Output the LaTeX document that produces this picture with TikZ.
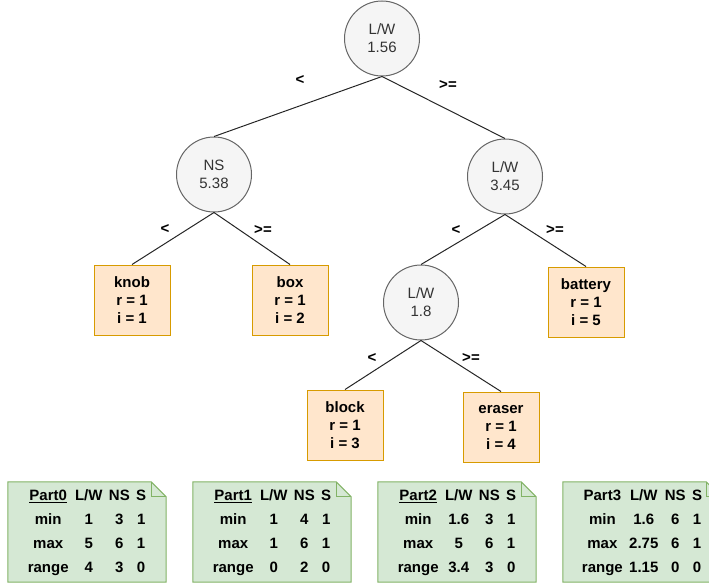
\documentclass[tikz,border=0pt]{standalone}
\usepackage{fontspec}
\setmainfont{Liberation Sans}
\definecolor{splitfill}{HTML}{F5F5F5}
\definecolor{splitline}{HTML}{666666}
\definecolor{splittext}{HTML}{333333}
\definecolor{leaffill}{HTML}{FFE6CC}
\definecolor{leafline}{HTML}{D79B00}
\definecolor{notefill}{HTML}{D5E8D4}
\definecolor{noteline}{HTML}{82B366}
\setlength{\tabcolsep}{3.2pt}
\renewcommand{\arraystretch}{1.5}
\tikzset{
  split/.style={circle, draw=splitline, fill=splitfill, line width=1pt,
    minimum size=75pt, inner sep=0pt, align=center, text=splittext,
    font=\fontsize{15}{18}\selectfont},
  leaf/.style={rectangle, draw=leafline, fill=leaffill, line width=1pt,
    minimum width=76pt, minimum height=70pt, inner sep=0pt, align=center,
    font=\fontsize{15}{18}\selectfont\bfseries},
  branch/.style={draw=black!85, line width=1pt},
  cond/.style={inner sep=0pt, font=\fontsize{15}{18}\selectfont\bfseries},
  noteframe/.style={minimum width=158pt, minimum height=100pt, inner sep=0pt},
  notetext/.style={inner sep=0pt, font=\fontsize{15}{16}\selectfont\bfseries},
  notepaper/.style={draw=noteline, fill=notefill, line width=1pt},
}
% folded-corner note drawn around a frame node
\newcommand{\foldnote}[1]{%
  \draw[notepaper] (#1.north west) -- ([xshift=-15pt]#1.north east)
    -- ([yshift=-15pt]#1.north east) -- (#1.south east) -- (#1.south west) -- cycle;
  \draw[notepaper, fill=none] ([xshift=-15pt]#1.north east)
    -- ([xshift=-15pt,yshift=-15pt]#1.north east) -- ([yshift=-15pt]#1.north east);}
\begin{document}
\begin{tikzpicture}[x=1pt, y=-1pt]
\useasboundingbox (0,0) rectangle (709,586);
\clip (0,0) rectangle (709,586);

% split nodes
\node[split] (root) at (382,38.5) {L/W\\1.56};
\node[split] (ns)   at (214,174.5) {NS\\5.38};
\node[split] (lwa)  at (505,176.5) {L/W\\3.45};
\node[split] (lwb)  at (421,302.5) {L/W\\1.8};

% leaves
\node[leaf] (knob)    at (132,300) {knob\\r = 1\\i = 1};
\node[leaf] (box)     at (290,300) {box\\r = 1\\i = 2};
\node[leaf] (battery) at (586,302) {battery\\r = 1\\i = 5};
\node[leaf] (block)   at (345,425) {block\\r = 1\\i = 3};
\node[leaf] (eraser)  at (501,427) {eraser\\r = 1\\i = 4};

% branches
\draw[branch] (root.south) -- (ns.north);
\draw[branch] (root.south) -- (lwa.north);
\draw[branch] (ns.south) -- (knob.north);
\draw[branch] (ns.south) -- (box.north);
\draw[branch] (lwa.south) -- (lwb.north);
\draw[branch] (lwa.south) -- (battery.north);
\draw[branch] (lwb.south) -- (block.north);
\draw[branch] (lwb.south) -- (eraser.north);

% branch conditions
\node[cond] (c1) at (300,80) {<};
\node[cond] (c2) at (448,85) {>=};
\node[cond] (c3) at (165,229) {<};
\node[cond] (c4) at (263,230) {>=};
\node[cond] (c5) at (456,230) {<};
\node[cond] (c6) at (555,230) {>=};
\node[cond] (c7) at (372,358) {<};
\node[cond] (c8) at (471,358) {>=};

% partition summaries
\node[noteframe] (p0) at (87,532) {};
\node[noteframe] (p1) at (272,532) {};
\node[noteframe] (p2) at (457,532) {};
\node[noteframe] (p3) at (642,532) {};
\foldnote{p0}\foldnote{p1}\foldnote{p2}\foldnote{p3}

\node[notetext] (t0) at (p0.center) {\begin{tabular}{@{}cccc@{}}
\underline{Part0} & L/W & NS & S\\
min & 1 & 3 & 1\\
max & 5 & 6 & 1\\
range & 4 & 3 & 0
\end{tabular}};
\node[notetext] (t1) at (p1.center) {\begin{tabular}{@{}cccc@{}}
\underline{Part1} & L/W & NS & S\\
min & 1 & 4 & 1\\
max & 1 & 6 & 1\\
range & 0 & 2 & 0
\end{tabular}};
\node[notetext] (t2) at (p2.center) {\begin{tabular}{@{}cccc@{}}
\underline{Part2} & L/W & NS & S\\
min & 1.6 & 3 & 1\\
max & 5 & 6 & 1\\
range & 3.4 & 3 & 0
\end{tabular}};
\node[notetext] (t3) at (p3.center) {\begin{tabular}{@{}cccc@{}}
Part3 & L/W & NS & S\\
min & 1.6 & 6 & 1\\
max & 2.75 & 6 & 1\\
range & 1.15 & 0 & 0
\end{tabular}};
\end{tikzpicture}
\end{document}
